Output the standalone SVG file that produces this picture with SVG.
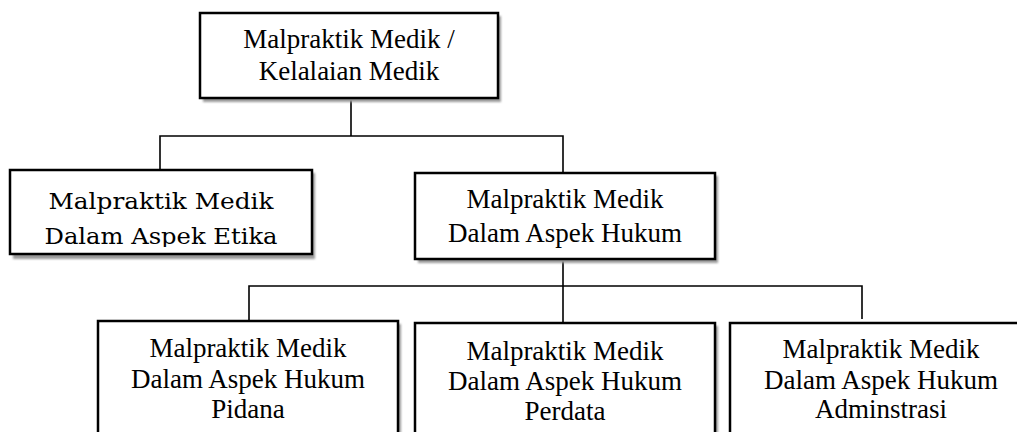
<svg xmlns="http://www.w3.org/2000/svg" width="1017" height="432" viewBox="0 0 1017 432">
<defs>
<filter id="blur" x="-5%" y="-5%" width="110%" height="120%"><feGaussianBlur stdDeviation="1.2"/></filter>
<clipPath id="etclip"><rect x="10" y="170" width="302" height="77"/></clipPath>
</defs>
<style>
.box{fill:#fff;stroke:#000;stroke-width:2.5}
.sh{fill:#9a9a9a;filter:url(#blur)}
.t{font-family:"Liberation Serif","Times New Roman",serif;font-size:27px;fill:#000;text-anchor:middle}
.e{font-family:"DejaVu Serif",serif;font-size:23px;fill:#000;text-anchor:middle}
.c{fill:none;stroke:#000;stroke-width:1.6}
</style>
<rect width="1017" height="432" fill="#fff"/>
<g id="connectors">
<path class="c" d="M351 98V136M160 170V136H563V173"/>
<path class="c" d="M563 259V323M249 321V286H862V319"/>
</g>
<g id="root">
<rect class="sh" x="203" y="16" width="298" height="86"/>
<rect class="box" x="200" y="13" width="298" height="85"/>
<text class="t" x="349" y="48">Malpraktik Medik /</text>
<text class="t" x="349" y="80">Kelalaian Medik</text>
</g>
<g id="etika">
<rect class="sh" x="13" y="173" width="302" height="86"/>
<rect class="box" x="10" y="170" width="302" height="84"/>
<g clip-path="url(#etclip)">
<text class="e" x="161" y="209" textLength="225" lengthAdjust="spacingAndGlyphs">Malpraktik Medik</text>
<text class="e" x="161" y="244" textLength="233" lengthAdjust="spacingAndGlyphs">Dalam Aspek Etika</text>
</g>
</g>
<g id="hukum">
<rect class="sh" x="418" y="176" width="300" height="87"/>
<rect class="box" x="415" y="173" width="300" height="86"/>
<text class="t" x="565" y="208">Malpraktik Medik</text>
<text class="t" x="565" y="242">Dalam Aspek Hukum</text>
</g>
<g id="pidana">
<rect class="sh" x="101" y="324" width="300" height="120"/>
<rect class="box" x="98" y="321" width="300" height="120"/>
<text class="t" x="248" y="357">Malpraktik Medik</text>
<text class="t" x="248" y="388">Dalam Aspek Hukum</text>
<text class="t" x="248" y="418">Pidana</text>
</g>
<g id="perdata">
<rect class="sh" x="418" y="326" width="300" height="120"/>
<rect class="box" x="415" y="323" width="300" height="120"/>
<text class="t" x="565" y="360">Malpraktik Medik</text>
<text class="t" x="565" y="390">Dalam Aspek Hukum</text>
<text class="t" x="565" y="420">Perdata</text>
</g>
<g id="adminstrasi">
<rect class="sh" x="733" y="326" width="302" height="120"/>
<rect class="box" x="730" y="323" width="302" height="120"/>
<text class="t" x="881" y="358">Malpraktik Medik</text>
<text class="t" x="881" y="389">Dalam Aspek Hukum</text>
<text class="t" x="881" y="418">Adminstrasi</text>
</g>
</svg>
